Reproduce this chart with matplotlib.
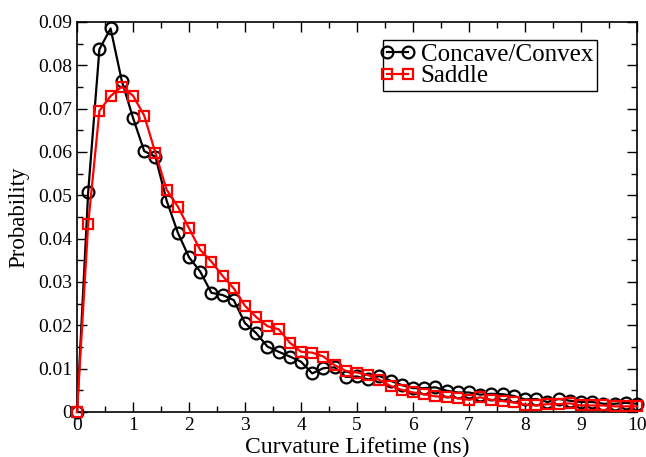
import numpy as np
import matplotlib
matplotlib.use("Agg")
import matplotlib.pyplot as plt
from matplotlib.ticker import MultipleLocator
from matplotlib.legend_handler import HandlerLine2D

plt.rcParams['font.family'] = ['Liberation Serif', 'DejaVu Serif']

# lifetime grid (ns)
lifetime = [round(0.2 * i, 1) for i in range(51)]

concave_convex = [0.0, 0.0508, 0.0837, 0.0885, 0.0764, 0.0679, 0.0602, 0.0589, 0.0488, 0.0414,
                  0.0357, 0.0324, 0.0275, 0.0270, 0.0258, 0.0205, 0.0182, 0.0151, 0.0139, 0.0128,
                  0.0116, 0.0089, 0.0101, 0.0103, 0.0081, 0.0082, 0.0075, 0.0083, 0.0072, 0.0062,
                  0.0055, 0.0055, 0.0057, 0.0049, 0.0045, 0.0045, 0.0040, 0.0042, 0.0041, 0.0037,
                  0.0029, 0.0030, 0.0023, 0.0030, 0.0026, 0.0023, 0.0023, 0.0019, 0.0019, 0.0021,
                  0.0019]

saddle = [0.0, 0.0434, 0.0695, 0.0729, 0.0751, 0.0730, 0.0684, 0.0598, 0.0513, 0.0474,
          0.0424, 0.0374, 0.0347, 0.0314, 0.0285, 0.0245, 0.0219, 0.0198, 0.0191, 0.0160,
          0.0139, 0.0137, 0.0128, 0.0108, 0.0095, 0.0091, 0.0085, 0.0074, 0.0060, 0.0051,
          0.0045, 0.0041, 0.0036, 0.0035, 0.0032, 0.0028, 0.0034, 0.0028, 0.0025, 0.0022,
          0.0017, 0.0015, 0.0018, 0.0018, 0.0020, 0.0015, 0.0015, 0.0015, 0.0013, 0.0013,
          0.0013]

fig = plt.figure(figsize=(6.46, 4.57), dpi=100)
ax = fig.add_axes([0.1192, 0.0985, 0.8669, 0.8534])

l1, = ax.plot(lifetime, concave_convex, color='black', lw=1.6, marker='o', ms=8.5,
              mfc='none', mew=1.6, label='Concave/Convex', clip_on=False, zorder=3)
l2, = ax.plot(lifetime, saddle, color='red', lw=1.6, marker='s', ms=7.5,
              mfc='none', mew=1.6, label='Saddle', clip_on=False, zorder=4)

ax.set_xlim(0, 10)
ax.set_ylim(0, 0.09)
ax.xaxis.set_major_locator(MultipleLocator(1))
ax.xaxis.set_minor_locator(MultipleLocator(0.5))
ax.yaxis.set_minor_locator(MultipleLocator(0.005))
ax.set_yticks(np.arange(0, 0.0901, 0.01))
ax.set_yticklabels(['0'] + ['%.2f' % v for v in np.arange(0.01, 0.0901, 0.01)])
ax.tick_params(which='both', direction='in', top=True, right=True, labelsize=14, width=1)
ax.tick_params(which='major', length=7)
ax.tick_params(which='minor', length=4)
for s in ax.spines.values():
    s.set_linewidth(1.2)
    s.set_zorder(2)

ax.set_xlabel('Curvature Lifetime (ns)', fontsize=17, labelpad=2)
ax.set_ylabel('Probability', fontsize=16.5, labelpad=6)

# legend handles: marker at both ends of a short line, as in the original
hm = {l1: HandlerLine2D(numpoints=2, marker_pad=0.0), l2: HandlerLine2D(numpoints=2, marker_pad=0.0)}
leg = ax.legend(handler_map=hm, loc='upper right', bbox_to_anchor=(0.928, 0.954), fontsize=18,
                fancybox=False, edgecolor='black', framealpha=1, handlelength=0.85,
                handletextpad=0.5, borderpad=0.15, labelspacing=-0.05, borderaxespad=0)
leg.get_frame().set_linewidth(1.0)
leg.set_zorder(5)

fig.savefig('out.png', dpi=100)
